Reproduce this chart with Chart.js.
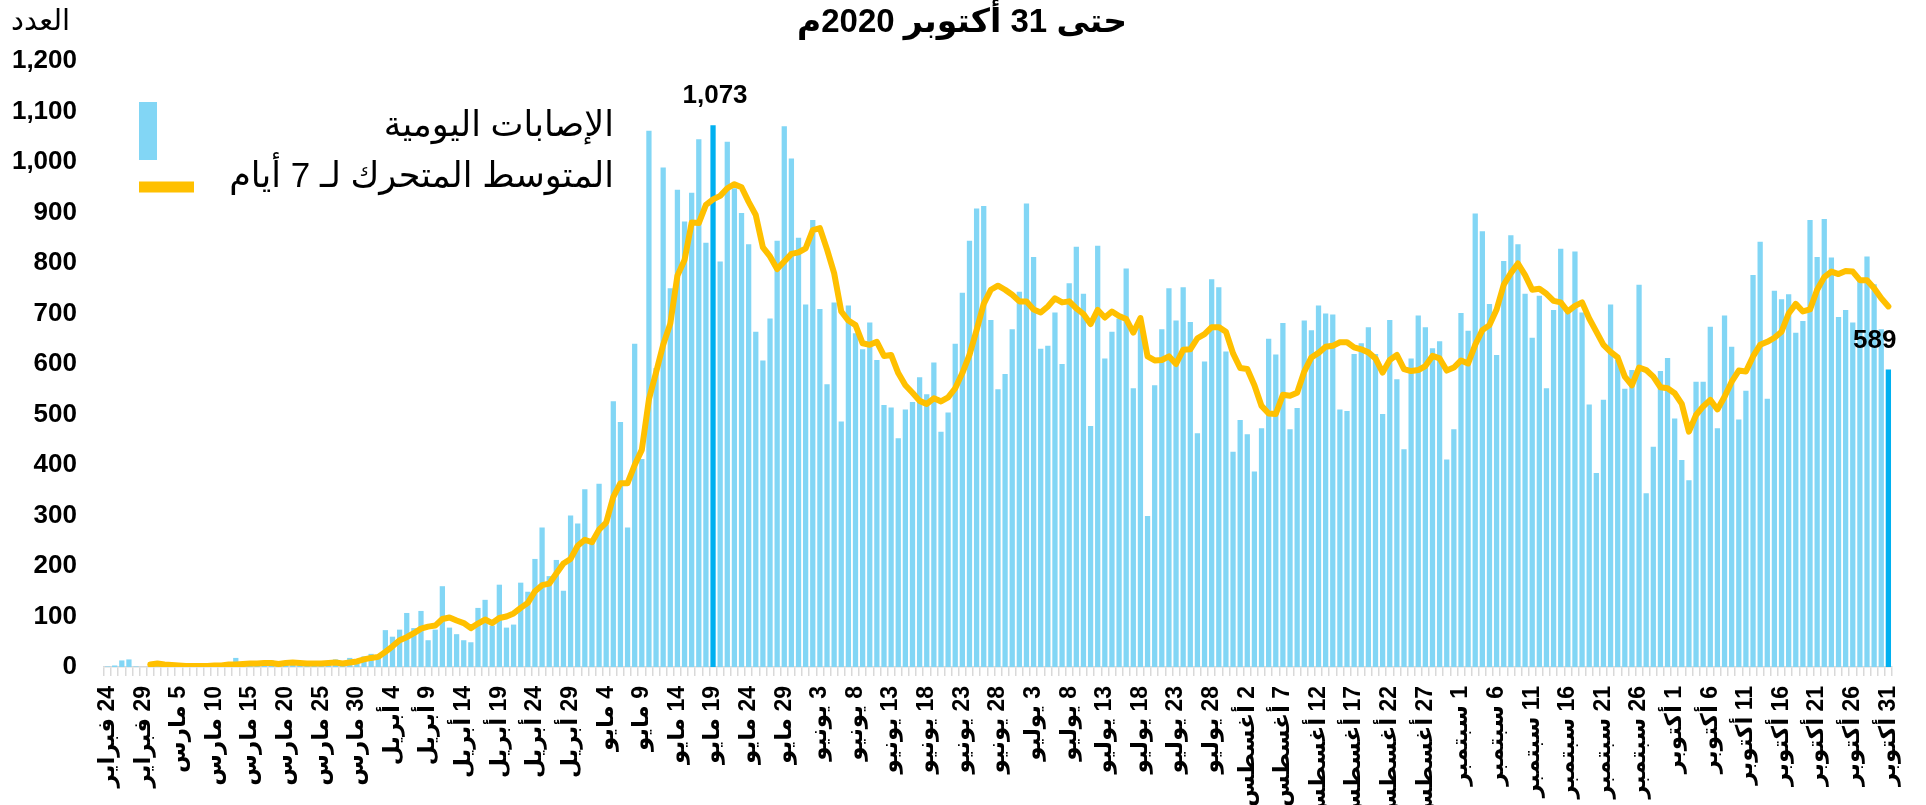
<!DOCTYPE html>
<html lang="ar">
<head>
<meta charset="utf-8">
<script src="https://cdn.jsdelivr.net/npm/chart.js@4.4.1/dist/chart.umd.min.js"></script>
<style>
    html, body { margin: 0; padding: 0; background: #fff; overflow: hidden; }
    #wrap { width: 1926px; height: 805px; position: relative; }
    canvas { direction: rtl; }
</style>
</head>
<body>
<div id="wrap"><canvas id="chart-cases" dir="rtl"></canvas></div>
<script>
// ── Data ─────────────────────────────────────────────────────────
const chartTitle = 'حتى 31 أكتوبر 2020م';
const yAxisTitle = 'العدد';
const seriesNames = ['الإصابات اليومية', 'المتوسط المتحرك لـ 7 أيام'];

// month name, first day, last day shown
const months = [
    ['فبراير', 24, 29],
    ['مارس', 1, 31],
    ['أبريل', 1, 30],
    ['مايو', 1, 31],
    ['يونيو', 1, 30],
    ['يوليو', 1, 31],
    ['أغسطس', 1, 31],
    ['سبتمبر', 1, 30],
    ['أكتوبر', 1, 31],
];

const dailyCases = [
    1, 3, 13, 15, 1, 0, 1, 10, 2, 0,
    0, 2, 0, 0, 3, 0, 1, 8, 18, 3,
    10, 8, 12, 13, 3, 6, 11, 12, 7, 4,
    8, 6, 15, 3, 18, 8, 21, 26, 20, 73,
    60, 74, 107, 77, 111, 53, 74, 160, 78, 65,
    53, 49, 117, 133, 82, 163, 78, 84, 167, 149,
    214, 276, 180, 212, 151, 300, 284, 352, 247, 363,
    282, 526, 485, 276, 640, 412, 1062, 592, 989, 750,
    945, 882, 939, 1045, 840, 1073, 803, 1040, 948, 899,
    837, 664, 607, 690, 844, 1071, 1007, 850, 718, 885,
    709, 560, 722, 486, 716, 661, 629, 682, 608, 519,
    514, 453, 510, 525, 574, 540, 603, 466, 504, 640,
    741, 844, 908, 913, 687, 550, 580, 669, 743, 918,
    812, 630, 636, 702, 600, 760, 832, 739, 477, 834,
    611, 664, 690, 789, 552, 681, 299, 558, 669, 750,
    686, 752, 683, 463, 605, 768, 752, 625, 426, 489,
    461, 387, 473, 650, 619, 681, 471, 513, 686, 667,
    716, 700, 698, 510, 507, 620, 641, 673, 620, 501,
    687, 570, 431, 611, 696, 673, 631, 645, 411, 471,
    701, 666, 898, 863, 719, 618, 804, 855, 837, 739,
    652, 735, 552, 707, 828, 704, 823, 702, 520, 384,
    529, 718, 608, 551, 588, 757, 344, 436, 586, 612,
    492, 410, 370, 565, 565, 674, 473, 696, 634, 490,
    547, 776, 842, 531, 745, 728, 738, 662, 685, 885,
    812, 887, 811, 693, 707, 682, 766, 813, 758, 669, 589,
];

const movingAverage = [
    null, null, null, null, null, null, 5, 7, 5, 4,
    3, 2, 2, 2, 2, 3, 3, 5, 5, 6,
    7, 7, 8, 8, 6, 8, 9, 8, 7, 7,
    7, 8, 9, 7, 9, 11, 15, 18, 20, 30,
    41, 53, 59, 67, 76, 80, 82, 95, 98, 92,
    87, 77, 86, 94, 87, 97, 100, 106, 117, 127,
    150, 162, 165, 185, 205, 214, 240, 252, 247, 272,
    286, 337, 364, 364, 400, 430, 530, 583, 638, 680,
    775, 806, 880, 879, 915, 926, 933, 948, 956, 950,
    921, 895, 831, 813, 788, 803, 818, 821, 829, 865,
    869, 827, 780, 704, 686, 677, 641, 638, 644, 616,
    618, 582, 558, 543, 527, 521, 532, 526, 534, 552,
    582, 618, 667, 719, 747, 755, 747, 737, 724, 724,
    708, 702, 714, 730, 722, 724, 710, 699, 679, 707,
    692, 704, 695, 689, 662, 691, 615, 607, 608, 615,
    600, 628, 629, 651, 659, 673, 673, 664, 621, 592,
    590, 558, 517, 502, 501, 539, 537, 543, 585, 613,
    622, 634, 636, 643, 643, 633, 629, 623, 611, 583,
    608, 618, 590, 586, 588, 596, 616, 611, 587, 593,
    607, 601, 638, 667, 677, 708, 757, 780, 799, 776,
    747, 749, 739, 725, 722, 704, 715, 722, 690, 664,
    638, 624, 613, 575, 558, 593, 588, 575, 554, 552,
    542, 521, 466, 499, 516, 529, 510, 535, 565, 587,
    585, 615, 638, 644, 652, 664, 700, 719, 704, 708,
    747, 772, 783, 778, 784, 783, 766, 766, 750, 730, 714,
];

// bars drawn darker and labelled with their value
const highlightDays = [85, 250];

// ── Labels: one per day, shown every 5th ─────────────────────────
const labels = [];
months.forEach(([name, from, to]) => {
    for (let d = from; d <= to; d++) labels.push(`${d} ${name}`);
});

if (labels.length !== dailyCases.length || movingAverage.length !== dailyCases.length) {
    throw new Error(`length mismatch: ${labels.length} / ${dailyCases.length} / ${movingAverage.length}`);
}

const BAR_BLUE  = '#82d6f5';
const DARK_BLUE = '#00b0f0';
const GOLD      = '#ffc000';
const FONT      = '"Liberation Sans", "DejaVu Sans", sans-serif';

const barColors = dailyCases.map((_, i) => highlightDays.includes(i) ? DARK_BLUE : BAR_BLUE);

// ── Title, unit, legend and value labels drawn on the canvas ─────
const overlay = {
    id: 'overlay',
    afterDraw(chart) {
        const { ctx } = chart;
        const xs = chart.scales.x;
        const ys = chart.scales.y;
        ctx.save();
        ctx.fillStyle = '#000';
        ctx.textBaseline = 'middle';

        ctx.font = `bold 33px ${FONT}`;
        ctx.textAlign = 'center';
        ctx.fillText(chartTitle, 962, 23);

        ctx.font = `29px ${FONT}`;
        ctx.textAlign = 'left';
        ctx.fillText(yAxisTitle, 11, 22);

        // legend
        ctx.fillStyle = BAR_BLUE;
        ctx.fillRect(139, 102, 18, 58);
        ctx.strokeStyle = GOLD;
        ctx.lineWidth = 11;
        ctx.beginPath();
        ctx.moveTo(139, 187);
        ctx.lineTo(194, 187);
        ctx.stroke();

        ctx.fillStyle = '#000';
        ctx.font = `35px ${FONT}`;
        ctx.textAlign = 'right';
        ctx.fillText(seriesNames[0], 614, 126);
        ctx.fillText(seriesNames[1], 614, 177);

        // values above the highlighted bars
        ctx.font = `bold 26px ${FONT}`;
        highlightDays.forEach((i, n) => {
            const px = xs.getPixelForValue(i);
            const py = ys.getPixelForValue(dailyCases[i]) - 29;
            const txt = dailyCases[i].toLocaleString('en-US');
            if (n === highlightDays.length - 1) {
                ctx.textAlign = 'right';
                ctx.fillText(txt, px + 8, py);
            } else {
                ctx.textAlign = 'center';
                ctx.fillText(txt, px + 2, py);
            }
        });
        ctx.restore();
    }
};

new Chart(document.getElementById('chart-cases'), {
    type: 'bar',
    data: {
        labels,
        datasets: [
            {
                type: 'line',
                label: seriesNames[1],
                data: movingAverage,
                borderColor: GOLD,
                borderWidth: 6,
                borderJoinStyle: 'round',
                borderCapStyle: 'round',
                pointRadius: 0,
                tension: 0,
                fill: false,
                order: 1,
            },
            {
                label: seriesNames[0],
                data: dailyCases,
                backgroundColor: barColors,
                barPercentage: 0.74,
                categoryPercentage: 1,
                order: 2,
            }
        ]
    },
    options: {
        responsive: true,
        maintainAspectRatio: false,
        animation: false,
        layout: { padding: { top: 61, right: 12, bottom: 0, left: 0 } },
        plugins: {
            legend: { display: false },
            tooltip: { enabled: false },
        },
        scales: {
            x: {
                afterFit: (s) => { s.height = 138; },
                grid: {
                    drawOnChartArea: false,
                    color: '#d9d9d9',
                    lineWidth: 1.5,
                    tickLength: 9,
                },
                border: { color: '#d9d9d9', width: 1.5 },
                ticks: {
                    autoSkip: false,
                    minRotation: 90,
                    maxRotation: 90,
                    padding: 10,
                    color: '#000',
                    font: { family: FONT, size: 23, weight: 'bold' },
                    callback: (v, i) => i % 5 === 0 ? labels[i] : '',
                },
            },
            y: {
                min: 0,
                max: 1200,
                afterFit: (s) => { s.width = 104; },
                grid: { display: false },
                border: { display: false },
                ticks: {
                    stepSize: 100,
                    padding: 19,
                    color: '#000',
                    font: { family: FONT, size: 26, weight: 'bold' },
                    callback: (v) => v.toLocaleString('en-US'),
                },
            },
        },
    },
    plugins: [overlay],
});
</script>
</body>
</html>
